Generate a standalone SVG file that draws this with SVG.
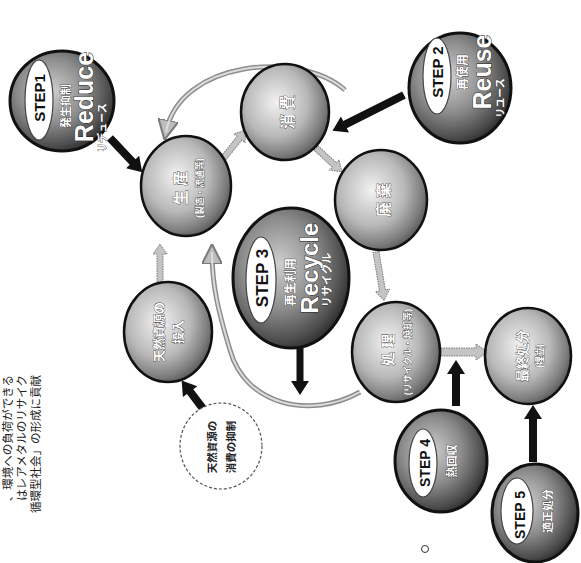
<svg xmlns="http://www.w3.org/2000/svg" width="581" height="563" viewBox="0 0 581 563">
<style>
text{font-family:"Liberation Sans","Noto Sans CJK JP",sans-serif;text-anchor:middle;dominant-baseline:central}
.ball{fill:url(#gBall);stroke:#111;stroke-width:2.5}
.step{fill:url(#gStep);stroke:#111;stroke-width:3}
.oval{fill:#fff;stroke:#444;stroke-width:1.2}
.st{font-weight:bold;fill:#111}
.wl{font-weight:bold;fill:#fff;stroke:#333;stroke-width:0.7;paint-order:stroke}
.big{font-weight:bold;fill:#fff;stroke:#222;stroke-width:1;paint-order:stroke}
.gray{fill:#c4c4c4;stroke:#7a7a7a;stroke-width:1;stroke-dasharray:1.5 1}
.blk{fill:#111}
.arcO{fill:none;stroke:#8e8e8e;stroke-width:5}
.arcI{fill:none;stroke:#dcdcdc;stroke-width:2}
.para{font-size:11.5px;fill:#222;text-anchor:end}
</style>
<defs>
<radialGradient id="gBall" cx="40%" cy="40%" r="65%">
<stop offset="0" stop-color="#f2f2f2"/><stop offset="0.55" stop-color="#b8b8b8"/><stop offset="0.85" stop-color="#7c7c7c"/><stop offset="1" stop-color="#555"/>
</radialGradient>
<radialGradient id="gStep" cx="40%" cy="40%" r="65%">
<stop offset="0" stop-color="#cfcfcf"/><stop offset="0.5" stop-color="#8c8c8c"/><stop offset="0.85" stop-color="#4c4c4c"/><stop offset="1" stop-color="#2a2a2a"/>
</radialGradient>
<marker id="mg" viewBox="0 0 10 10" refX="6" refY="5" markerWidth="4" markerHeight="4" orient="auto" markerUnits="strokeWidth">
<path d="M0,0 L10,5 L0,10 Z" fill="#bdbdbd" stroke="#7a7a7a" stroke-width="1"/>
</marker>
</defs>

<g id="connectors">
<path class="arcO" d="M345,90 C300,50 180,60 166,132" marker-end="url(#mg)"/>
<path class="arcI" d="M345,90 C300,50 180,60 166,132"/>
<path class="arcO" d="M360,392 C310,420 245,405 230,350 C218,310 212,285 212,252" marker-end="url(#mg)"/>
<path class="arcI" d="M360,392 C310,420 245,405 230,350 C218,310 212,285 212,252"/>
<path class="gray" transform="translate(222,160) rotate(-51.3)" d="M0,-3 L28,-3 L28,-7 L38,0 L28,7 L28,3 L0,3 Z"/>
<path class="gray" transform="translate(316,148) rotate(42.7)" d="M0,-3 L25,-3 L25,-7 L35,0 L25,7 L25,3 L0,3 Z"/>
<path class="gray" transform="translate(376,252) rotate(80.5)" d="M0,-3 L39,-3 L39,-7 L49,0 L39,7 L39,3 L0,3 Z"/>
<path class="gray" transform="translate(441,352)" d="M0,-4 L35,-4 L35,-8 L47,0 L35,8 L35,4 L0,4 Z"/>
<path class="gray" transform="translate(160,282) rotate(-90)" d="M0,-3 L28,-3 L28,-7 L38,0 L28,7 L28,3 L0,3 Z"/>
<path class="blk" transform="translate(110,138) rotate(46.7)" d="M0,-4 L33,-4 L33,-9 L47,0 L33,9 L33,4 L0,4 Z"/>
<path class="blk" transform="translate(404,95) rotate(153.4)" d="M0,-4 L66,-4 L66,-9 L80,0 L66,9 L66,4 L0,4 Z"/>
<path class="blk" transform="translate(300,346) rotate(90)" d="M0,-3.5 L35,-3.5 L35,-9 L49,0 L35,9 L35,3.5 L0,3.5 Z"/>
<path class="blk" transform="translate(456,406) rotate(-90)" d="M0,-4 L32,-4 L32,-9 L46,0 L32,9 L32,4 L0,4 Z"/>
<path class="blk" transform="translate(533,462) rotate(-90)" d="M0,-4 L43,-4 L43,-9 L57,0 L43,9 L43,4 L0,4 Z"/>
<path class="blk" transform="translate(204,410) rotate(-127.2)" d="M0,-4 L23,-4 L23,-9 L37,0 L23,9 L23,4 L0,4 Z"/>
</g>

<g id="step1">
<ellipse class="step" cx="62" cy="101" rx="52" ry="50"/>
<ellipse class="oval" cx="39" cy="100" rx="14" ry="40"/>
<text class="st" font-size="15" transform="translate(39,98) rotate(-90)">STEP1</text>
<text class="wl" font-size="11" transform="translate(66,106) rotate(-90)">発生抑制</text>
<text class="big" font-size="25" transform="translate(84,97) rotate(-90)">Reduce</text>
<text class="wl" font-size="10" transform="translate(102,128) rotate(-90)">リデュース</text>
</g>

<g id="step2">
<ellipse class="step" cx="460" cy="88" rx="51" ry="55"/>
<ellipse class="oval" cx="437" cy="76" rx="14" ry="38"/>
<text class="st" font-size="15" transform="translate(437,72) rotate(-90)">STEP 2</text>
<text class="wl" font-size="12" transform="translate(463,72) rotate(-90)">再使用</text>
<text class="big" font-size="25" transform="translate(482,72) rotate(-90)">Reuse</text>
<text class="wl" font-size="10" transform="translate(500,98) rotate(-90)">リユース</text>
</g>

<g id="step3">
<ellipse class="step" cx="291" cy="278" rx="58" ry="70"/>
<ellipse class="oval" cx="261" cy="280" rx="15" ry="43"/>
<text class="st" font-size="17" transform="translate(262,278) rotate(-90)">STEP 3</text>
<text class="wl" font-size="12" transform="translate(291,282) rotate(-90)">再生利用</text>
<text class="big" font-size="24" transform="translate(309,268) rotate(-90)">Recycle</text>
<text class="wl" font-size="11" transform="translate(327,280) rotate(-90)">リサイクル</text>
</g>

<g id="step4">
<ellipse class="step" cx="441" cy="461" rx="46" ry="51"/>
<ellipse class="oval" cx="423" cy="463" rx="14" ry="34"/>
<text class="st" font-size="14" transform="translate(425,463) rotate(-90)">STEP 4</text>
<text class="wl" font-size="11" transform="translate(452,461) rotate(-90)">熱回収</text>
</g>

<g id="step5">
<ellipse class="step" cx="535" cy="513" rx="43" ry="49"/>
<ellipse class="oval" cx="517" cy="511" rx="16" ry="33"/>
<text class="st" font-size="14" transform="translate(520,515) rotate(-90)">STEP 5</text>
<text class="wl" font-size="11" transform="translate(548,511) rotate(-90)">適正処分</text>
</g>

<g id="seisan">
<ellipse class="ball" cx="186" cy="186" rx="45" ry="50"/>
<text class="wl" font-size="15" transform="translate(180,188) rotate(-90)">生 産</text>
<text class="wl" font-size="9" transform="translate(200,188) rotate(-90)">(製造・流通等)</text>
</g>

<g id="shouhi">
<ellipse class="ball" cx="285" cy="112" rx="44" ry="48"/>
<text class="wl" font-size="15" transform="translate(287,112) rotate(-90)">消 費</text>
</g>

<g id="haiki">
<ellipse class="ball" cx="381" cy="200" rx="46" ry="50"/>
<text class="wl" font-size="15" transform="translate(383,200) rotate(-90)">廃 棄</text>
</g>

<g id="shori">
<ellipse class="ball" cx="396" cy="352" rx="44" ry="50"/>
<text class="wl" font-size="14" transform="translate(388,350) rotate(-90)">処 理</text>
<text class="wl" font-size="9" transform="translate(408,352) rotate(-90)">(リサイクル・焼却等)</text>
</g>

<g id="saishu">
<ellipse class="ball" cx="528" cy="356" rx="43" ry="48"/>
<text class="wl" font-size="13" transform="translate(522,356) rotate(-90)">最終処分</text>
<text class="wl" font-size="9" transform="translate(540,356) rotate(-90)">(埋立)</text>
</g>

<g id="tonyu">
<ellipse class="ball" cx="168" cy="332" rx="44" ry="50"/>
<text class="wl" font-size="12" transform="translate(160,332) rotate(-90)">天然資源の</text>
<text class="wl" font-size="12" transform="translate(179,332) rotate(-90)">投入</text>
</g>

<g id="yokusei">
<ellipse cx="221" cy="446" rx="41" ry="43" fill="#fff" stroke="#555" stroke-width="1.2" stroke-dasharray="3 2"/>
<text font-size="10.5" font-weight="bold" fill="#222" transform="translate(212,447) rotate(-90)">天然資源の</text>
<text font-size="10.5" font-weight="bold" fill="#222" transform="translate(231,447) rotate(-90)">消費の抑制</text>
</g>

<g id="paragraph">
<text class="para" transform="translate(8,375) rotate(-90)">、環境への負荷ができる</text>
<text class="para" transform="translate(22,375) rotate(-90)">はレアメタルのリサイク</text>
<text class="para" transform="translate(36,375) rotate(-90)">循環型社会」の形成に貢献</text>
</g>
<circle cx="425" cy="549" r="3.5" fill="none" stroke="#333" stroke-width="1"/>
</svg>
